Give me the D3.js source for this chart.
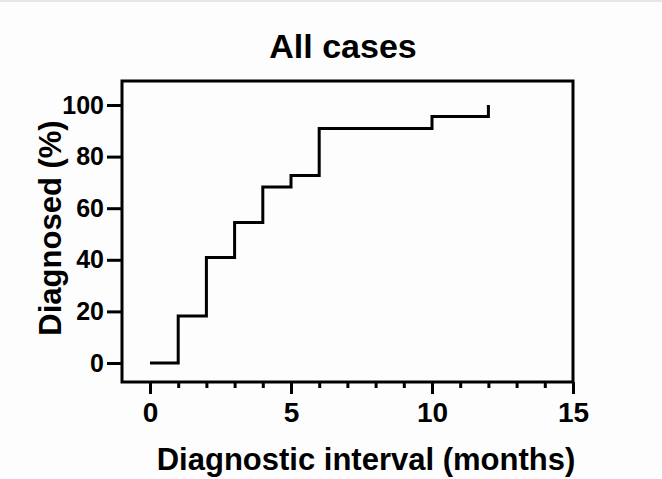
<!DOCTYPE html>
<html>
<head>
<meta charset="utf-8">
<script src="https://cdn.jsdelivr.net/npm/d3@7"></script>
<style>
	html, body { margin: 0; padding: 0; background: #fdfdfd; }
	body { width: 662px; height: 479px; overflow: hidden; border-top: 2px solid #e6e6e6; box-sizing: border-box; }
	svg { display: block; font-family: 'Liberation Sans', Arial, sans-serif; font-weight: bold; }
</style>
</head>
<body>
<div class="content"></div>
<script>
const w = 662;
const h = 477;

// cumulative % diagnosed by month
const months = [0, 1, 2, 3, 4, 5, 6, 10, 12];
const diagnosed = [0, 18.2, 40.9, 54.5, 68.2, 72.7, 90.9, 95.5, 100];

const xTicks = [0, 5, 10, 15];
const xMinor = [1, 2, 3, 4, 6, 7, 8, 9, 11, 12, 13, 14];
const yTicks = [0, 20, 40, 60, 80, 100];

const svg = d3.select('.content').append('svg')
	.attr('width', w)
	.attr('height', h);

const xScale = d3.scaleLinear()
	.domain([0, 15])
	.range([150, 573]);

const yScale = d3.scaleLinear()
	.domain([0, 100])
	.range([361, 103]);

// box
const boxL = 122, boxR = 573, boxT = 79, boxB = 380;
svg.append('rect')
	.attr('x', boxL)
	.attr('y', boxT)
	.attr('width', boxR - boxL)
	.attr('height', boxB - boxT)
	.attr('fill', 'none')
	.attr('stroke', '#000')
	.attr('stroke-width', 3);

// x axis ticks
const xAxis = d3.axisBottom(xScale)
	.tickValues(xTicks)
	.tickSize(12)
	.tickPadding(8)
	.tickFormat(d3.format('d'));

const gx = svg.append('g')
	.attr('transform', 'translate(0,' + boxB + ')')
	.call(xAxis);
gx.select('.domain').remove();
gx.selectAll('line').attr('stroke-width', 3);
gx.selectAll('text')
	.attr('font-size', 28)
	.attr('font-weight', 'bold')
	.attr('fill', '#000')
	.attr('font-family', 'Liberation Sans, Arial, sans-serif');

const gxm = svg.append('g')
	.attr('transform', 'translate(0,' + boxB + ')')
	.call(d3.axisBottom(xScale).tickValues(xMinor).tickSize(6).tickFormat(''));
gxm.select('.domain').remove();
gxm.selectAll('line').attr('stroke-width', 3);

// y axis ticks
const yAxis = d3.axisLeft(yScale)
	.tickValues(yTicks)
	.tickSize(15)
	.tickPadding(3);

const gy = svg.append('g')
	.attr('transform', 'translate(' + boxL + ',0)')
	.call(yAxis);
gy.select('.domain').remove();
gy.selectAll('line').attr('stroke-width', 3);
gy.selectAll('text')
	.attr('font-size', 25)
	.attr('font-weight', 'bold')
	.attr('fill', '#000')
	.attr('font-family', 'Liberation Sans, Arial, sans-serif');

// step line
const line = d3.line()
	.x((d, i) => xScale(months[i]))
	.y((d) => yScale(d))
	.curve(d3.curveStepAfter);

svg.append('path')
	.datum(diagnosed)
	.attr('d', line)
	.attr('fill', 'none')
	.attr('stroke', '#000')
	.attr('stroke-width', 3);

// titles
svg.append('text')
	.attr('x', 343)
	.attr('y', 56)
	.attr('text-anchor', 'middle')
	.attr('font-size', 34)
	.text('All cases');

svg.append('text')
	.attr('x', 366)
	.attr('y', 468)
	.attr('text-anchor', 'middle')
	.attr('font-size', 31)
	.text('Diagnostic interval (months)');

svg.append('text')
	.attr('transform', 'translate(61,' + 226 + ') rotate(-90)')
	.attr('text-anchor', 'middle')
	.attr('font-size', 31)
	.text('Diagnosed (%)');
</script>
</body>
</html>
